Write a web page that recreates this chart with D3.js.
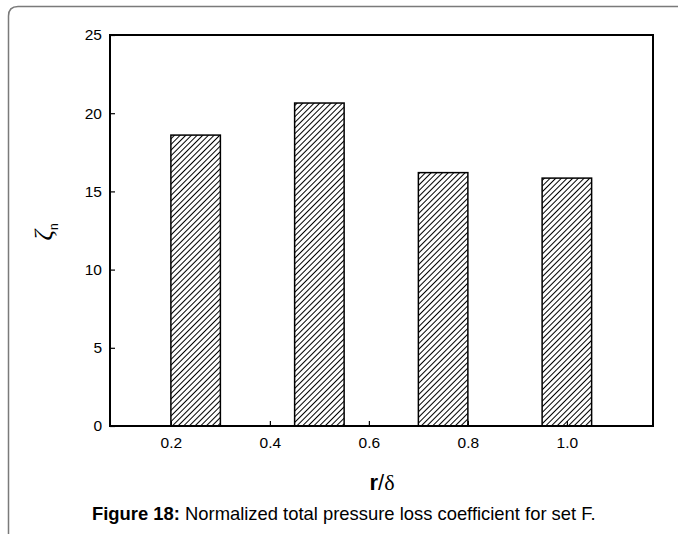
<!DOCTYPE html>
<html>
<head>
<meta charset="utf-8">
<script src="https://cdn.jsdelivr.net/npm/d3@7"></script>
<style>
  body { margin: 0; background: #fff; }
  svg text { font-family: "Liberation Sans", Arial, sans-serif; }
</style>
</head>
<body>
<div id="chart"></div>
<script>
const WIDTH = 678;
const HEIGHT = 534;

// data
const ratios = [0.25, 0.5, 0.75, 1.0];
const zetaN = [18.6, 20.65, 16.2, 15.85];
const xTicks = [0.2, 0.4, 0.6, 0.8, 1.0];
const yTicks = [0, 5, 10, 15, 20, 25];

const margin = {left: 110, top: 35, right: 25, bottom: 108};
const plotW = WIDTH - margin.left - margin.right;
const plotH = HEIGHT - margin.top - margin.bottom;

const svg = d3.select("#chart")
  .append("svg")
  .attr("width", WIDTH)
  .attr("height", HEIGHT);

const defs = svg.append("defs");
const hatch = defs.append("pattern")
  .attr("id", "hatch")
  .attr("patternUnits", "userSpaceOnUse")
  .attr("width", 4)
  .attr("height", 4)
  .attr("patternTransform", "rotate(45)");
hatch.append("rect").attr("width", 4).attr("height", 4).attr("fill", "#fff");
hatch.append("line")
  .attr("x1", 0).attr("y1", 0).attr("x2", 0).attr("y2", 4)
  .attr("stroke", "#000").attr("stroke-width", 2);

// outer page frame (rounded top-left corner, runs off the right/bottom)
svg.append("path")
  .attr("d", "M8.5,540 L8.5,16 Q8.5,6.5 18,6.5 L690,6.5")
  .attr("fill", "none")
  .attr("stroke", "#7a7a7a")
  .attr("stroke-width", 1.5);

const x = d3.scaleLinear().domain([0.077, 1.174]).range([0, plotW]);
const y = d3.scaleLinear().domain([0, 25]).range([plotH, 0]);
const barW = x(0.1) - x(0);

const g = svg.append("g").attr("transform", `translate(${margin.left},${margin.top})`);

g.selectAll(".bar")
  .data(ratios)
  .enter().append("rect")
  .attr("class", "bar")
  .attr("x", (d) => x(d) - barW / 2)
  .attr("y", (d, i) => y(zetaN[i]))
  .attr("width", barW)
  .attr("height", (d, i) => plotH - y(zetaN[i]))
  .attr("fill", "url(#hatch)")
  .attr("stroke", "#000")
  .attr("stroke-width", 1.5);

// axes with inward ticks
const xAxis = g.append("g")
  .attr("transform", `translate(0,${plotH})`)
  .call(d3.axisBottom(x).tickValues(xTicks).tickFormat(d3.format(".1f")).tickSizeInner(-5).tickSizeOuter(0).tickPadding(11));
const yAxis = g.append("g")
  .call(d3.axisLeft(y).tickValues(yTicks).tickFormat(d3.format("d")).tickSizeInner(-5).tickSizeOuter(0).tickPadding(8));

[xAxis, yAxis].forEach((ax) => {
  ax.attr("font-size", 15.5).attr("font-family", "'Liberation Sans', Arial, sans-serif");
  ax.select(".domain").remove();
  ax.selectAll(".tick line").attr("stroke", "#000").attr("stroke-width", 1.2);
  ax.selectAll(".tick text").attr("fill", "#000");
});

// plot frame
g.append("rect")
  .attr("width", plotW)
  .attr("height", plotH)
  .attr("fill", "none")
  .attr("stroke", "#000")
  .attr("stroke-width", 2);

// y label: zeta_n, rotated
const yLab = svg.append("text")
  .attr("transform", "translate(52,232) rotate(-90)")
  .attr("text-anchor", "middle");
yLab.append("tspan")
  .style("font-family", "'Liberation Serif', 'DejaVu Serif', serif")
  .style("font-style", "italic")
  .style("font-size", "26px")
  .text("ζ");
yLab.append("tspan")
  .attr("dy", 6)
  .style("font-size", "12px")
  .text("n");

// x label: r/δ
const xLab = svg.append("text")
  .attr("x", 382)
  .attr("y", 490)
  .attr("text-anchor", "middle")
  .style("font-size", "22px");
xLab.append("tspan").style("font-weight", "bold").text("r");
xLab.append("tspan").text("/");
xLab.append("tspan")
  .style("font-family", "'Liberation Serif', 'DejaVu Serif', serif")
  .text("δ");

// caption
const cap = svg.append("text")
  .attr("x", 92)
  .attr("y", 520)
  .style("font-size", "18.4px");
cap.append("tspan").style("font-weight", "bold").text("Figure 18:");
cap.append("tspan").text(" Normalized total pressure loss coefficient for set F.");
</script>
</body>
</html>
